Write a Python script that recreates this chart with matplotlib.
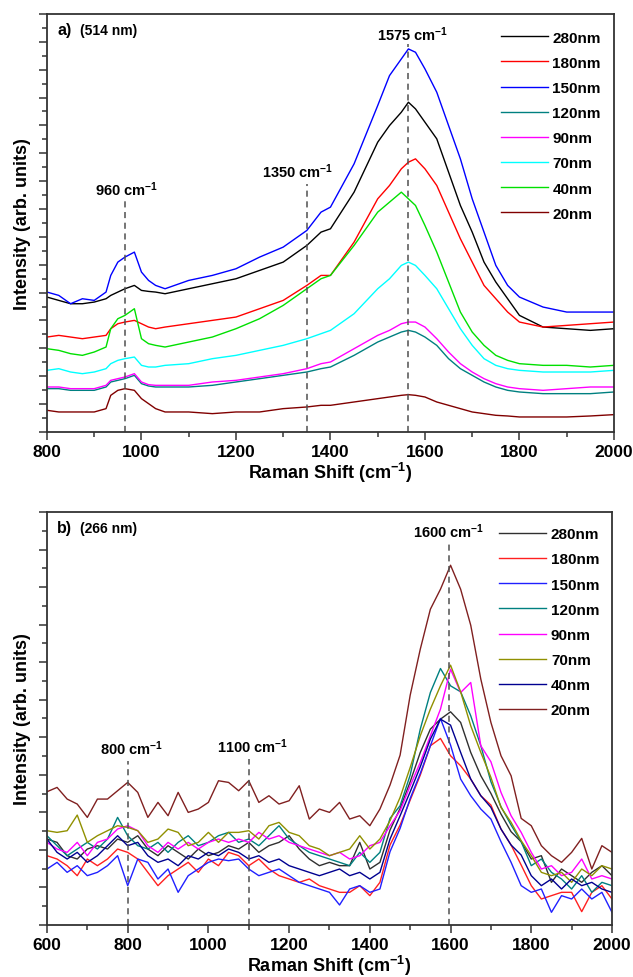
import matplotlib
matplotlib.use('Agg')
import matplotlib.pyplot as plt
from matplotlib.ticker import MultipleLocator, AutoMinorLocator

plt.rcParams['font.family'] = ['Liberation Sans', 'DejaVu Sans']
plt.rcParams['font.weight'] = 'bold'
plt.rcParams['mathtext.fontset'] = 'custom'
plt.rcParams['mathtext.rm'] = 'Liberation Sans:bold'
plt.rcParams['mathtext.default'] = 'rm'

labels = ['280nm', '180nm', '150nm', '120nm', '90nm', '70nm', '40nm', '20nm']
colors_a = ['#000000', '#ff0000', '#0000ff', '#008080', '#ff00ff', '#00ffff', '#00e000', '#800000']
colors_b = ['#303030', '#ff2020', '#2020ff', '#008080', '#ff00ff', '#909000', '#000090', '#802020']

# panel a) 514 nm excitation
shift_a = [800, 825, 850, 875, 900, 925, 935, 950, 965, 985, 1000, 1015, 1030, 1050,
           1100, 1150, 1200, 1250, 1300, 1350, 1380, 1400, 1450, 1500, 1525, 1550,
           1565, 1580, 1600, 1625, 1650, 1675, 1700, 1725, 1750, 1775, 1800, 1850,
           1900, 1950, 2000]
a_280 = [405, 395, 385, 385, 390, 400, 410, 420, 430, 440, 425, 422, 420, 415, 430,
         445, 460, 485, 510, 560, 600, 610, 720, 870, 920, 960, 990, 970, 930, 880,
         780, 680, 600, 510, 450, 400, 350, 315, 310, 305, 310]
a_180 = [285, 290, 285, 280, 285, 290, 310, 325, 330, 335, 325, 315, 310, 315, 325,
         335, 345, 370, 395, 440, 470, 470, 570, 700, 740, 790, 810, 820, 790, 740,
         660, 580, 510, 440, 400, 360, 330, 315, 320, 325, 330]
a_150 = [420, 410, 385, 400, 395, 420, 470, 510, 525, 540, 480, 455, 440, 430, 455,
         470, 490, 525, 555, 605, 660, 675, 805, 980, 1070, 1120, 1150, 1140, 1090, 1020,
         920, 820, 700, 600, 500, 440, 405, 375, 360, 360, 360]
a_120 = [130, 130, 125, 125, 125, 135, 150, 155, 160, 170, 145, 138, 135, 135, 135,
         140, 150, 160, 170, 180, 190, 195, 230, 270, 285, 300, 305, 300, 285, 260,
         220, 190, 170, 150, 135, 125, 120, 115, 115, 115, 120]
a_90 = [135, 135, 130, 130, 130, 140, 155, 160, 165, 175, 150, 142, 140, 140, 140,
        150, 155, 165, 175, 190, 205, 210, 250, 290, 305, 325, 330, 330, 315, 280,
        240, 205, 180, 160, 145, 135, 130, 125, 130, 135, 135]
a_70 = [185, 190, 180, 175, 180, 190, 205, 215, 220, 225, 200, 195, 195, 200, 205,
        220, 230, 245, 260, 280, 295, 305, 355, 430, 460, 500, 510, 500, 470, 430,
        370, 310, 260, 220, 200, 190, 185, 180, 180, 180, 185]
a_40 = [250, 245, 235, 230, 240, 255, 310, 340, 350, 370, 280, 265, 260, 255, 270,
        285, 310, 340, 380, 430, 460, 470, 560, 660, 690, 720, 700, 680, 620, 540,
        450, 360, 300, 260, 230, 215, 205, 200, 200, 195, 200]
a_20 = [65, 60, 60, 60, 60, 70, 110, 125, 130, 125, 100, 85, 70, 60, 60,
        55, 60, 60, 70, 75, 80, 80, 90, 100, 105, 110, 112, 110, 105, 90,
        80, 70, 60, 55, 50, 48, 45, 45, 45, 48, 52]

# panel b) 266 nm excitation
shift_b = [600, 625, 650, 675, 700, 725, 750, 775, 800, 825, 850, 875, 900, 925, 950,
           975, 1000, 1025, 1050, 1075, 1100, 1125, 1150, 1175, 1200, 1225, 1250, 1275,
           1300, 1325, 1350, 1375, 1400, 1425, 1450, 1475, 1500, 1525, 1550, 1575, 1600,
           1625, 1650, 1675, 1700, 1725, 1750, 1775, 1800, 1825, 1850, 1875, 1900, 1925,
           1950, 1975, 2000]
b_280 = [258, 248, 208, 198, 228, 238, 228, 258, 248, 268, 228, 208, 238, 218, 198,
         228, 208, 218, 238, 228, 248, 218, 238, 248, 268, 228, 198, 178, 188, 178,
         178, 248, 168, 188, 285, 350, 430, 518, 588, 618, 640, 608, 518, 448, 395,
         333, 280, 250, 198, 208, 128, 168, 148, 128, 158, 178, 148]
b_180 = [208, 198, 178, 148, 198, 178, 198, 228, 218, 198, 158, 118, 148, 168, 188,
         158, 198, 178, 218, 208, 178, 198, 168, 148, 138, 128, 138, 118, 108, 98,
         98, 118, 88, 128, 240, 300, 375, 450, 538, 560, 508, 478, 438, 388, 360,
         288, 240, 180, 118, 78, 88, 98, 98, 40, 98, 118, 78]
b_150 = [168, 188, 158, 178, 148, 158, 178, 208, 118, 198, 188, 138, 168, 98, 148,
         168, 188, 198, 193, 198, 168, 148, 158, 168, 148, 128, 118, 108, 98, 60,
         108, 118, 98, 108, 220, 290, 380, 455, 538, 620, 540, 438, 388, 348, 318,
         250, 188, 118, 98, 108, 38, 88, 78, 108, 78, 98, 38]
b_120 = [268, 238, 208, 228, 248, 228, 258, 323, 268, 238, 228, 248, 218, 248, 268,
         238, 248, 268, 278, 248, 258, 238, 268, 298, 258, 238, 218, 208, 198, 188,
         178, 218, 188, 218, 320, 358, 450, 588, 698, 770, 718, 700, 628, 538, 430,
         355, 300, 250, 178, 198, 158, 138, 108, 148, 98, 128, 118]
b_90 = [248, 228, 218, 248, 208, 248, 258, 288, 298, 283, 238, 218, 248, 228, 248,
        228, 248, 258, 248, 258, 248, 278, 258, 268, 248, 238, 228, 218, 208, 218,
        198, 208, 238, 248, 298, 343, 418, 488, 568, 648, 768, 698, 728, 538, 490,
        398, 328, 278, 218, 168, 178, 148, 158, 198, 138, 148, 138]
b_70 = [283, 278, 283, 330, 248, 268, 283, 298, 293, 283, 248, 258, 288, 278, 238,
        248, 278, 248, 278, 278, 283, 258, 298, 308, 278, 268, 238, 228, 208, 218,
        228, 268, 228, 258, 313, 383, 473, 568, 648, 718, 780, 700, 598, 518, 443,
        353, 308, 253, 208, 158, 148, 158, 128, 168, 148, 178, 168]
b_40 = [258, 218, 198, 218, 188, 208, 238, 268, 238, 248, 208, 188, 198, 178, 208,
        198, 218, 208, 228, 218, 198, 208, 188, 198, 178, 168, 158, 148, 158, 168,
        148, 158, 138, 158, 258, 328, 400, 475, 558, 618, 600, 518, 438, 388, 353,
        288, 240, 210, 148, 118, 138, 108, 138, 118, 128, 108, 98]
b_20 = [400, 413, 378, 363, 323, 378, 378, 403, 428, 398, 323, 368, 328, 398, 338,
        348, 368, 433, 428, 403, 433, 368, 388, 363, 373, 418, 318, 348, 338, 368,
        318, 328, 298, 348, 420, 510, 690, 828, 948, 1008, 1080, 1008, 900, 738, 608,
        508, 448, 320, 298, 238, 208, 188, 218, 260, 168, 238, 218]

series_a = [a_280, a_180, a_150, a_120, a_90, a_70, a_40, a_20]
series_b = [b_280, b_180, b_150, b_120, b_90, b_70, b_40, b_20]

# peak markers: (position, top of dashed line, text x, text y, label)
peaks_a = [(965, 700, 902, 712, '960'), (1350, 745, 1255, 766, '1350'), (1565, 1165, 1498, 1177, '1575')]
peaks_b = [(800, 493, 731, 513, '800'), (1100, 498, 1021, 519, '1100'), (1597, 1150, 1507, 1164, '1600')]

fig = plt.figure(figsize=(6.33, 9.78), dpi=100)
ax_a = fig.add_axes([0.0742, 0.5573, 0.8957, 0.4274])
ax_b = fig.add_axes([0.0742, 0.0532, 0.8926, 0.4223])


def draw_panel(ax, shift, series, colors, peaks, xlim, ylim, nmaj, tag, laser, leg_top):
    for ys, c, lab in zip(series, colors, labels):
        ax.plot(shift, ys, color=c, lw=1.0, label=lab)
    for pos, top, tx, ty, lab in peaks:
        ax.plot([pos, pos], [0, top], ls=(0, (4, 3)), color='#505050', lw=1.1)
        ax.text(tx, ty, lab + r' cm$^{-1}$', fontsize=10.5, fontweight='bold', va='baseline')
    ax.set_xlim(*xlim)
    ax.set_ylim(*ylim)
    ax.xaxis.set_major_locator(MultipleLocator(200))
    ax.xaxis.set_minor_locator(MultipleLocator(100))
    ax.yaxis.set_major_locator(MultipleLocator(ylim[1] / nmaj))
    ax.yaxis.set_minor_locator(AutoMinorLocator(2))
    ax.tick_params(which='both', direction='out', top=False, right=False,
                   labelleft=False, labelsize=12.5, width=1.1, color='#333333', pad=3)
    ax.tick_params(which='major', length=5.5)
    ax.tick_params(which='minor', length=3.5)
    for lbl in ax.get_xticklabels():
        lbl.set_fontweight('bold')
    for sp in ax.spines.values():
        sp.set_linewidth(1.3)
        sp.set_color('#333333')
    ax.set_xlabel(r'Raman Shift (cm$^{-1}$)', fontsize=13, fontweight='bold', labelpad=1)
    ax.set_ylabel('Intensity (arb. units)', fontsize=13, fontweight='bold', labelpad=6)
    ax.text(0.018, 0.962, tag, transform=ax.transAxes, fontsize=11.5, fontweight='bold', va='center')
    ax.text(0.058, 0.962, laser, transform=ax.transAxes, fontsize=10, fontweight='bold', va='center')
    ax.legend(loc='upper left', bbox_to_anchor=(0.80, leg_top), frameon=False, fontsize=11,
              handlelength=3.1, handletextpad=0.3, labelspacing=0.73, borderpad=0,
              borderaxespad=0)


draw_panel(ax_a, shift_a, series_a, colors_a, peaks_a, (800, 2000), (0, 1255), 15,
           'a)', '(514 nm)', 0.96)
draw_panel(ax_b, shift_b, series_b, colors_b, peaks_b, (600, 2000), (0, 1240), 11,
           'b)', '(266 nm)', 0.963)

fig.savefig('out.png', dpi=100)
